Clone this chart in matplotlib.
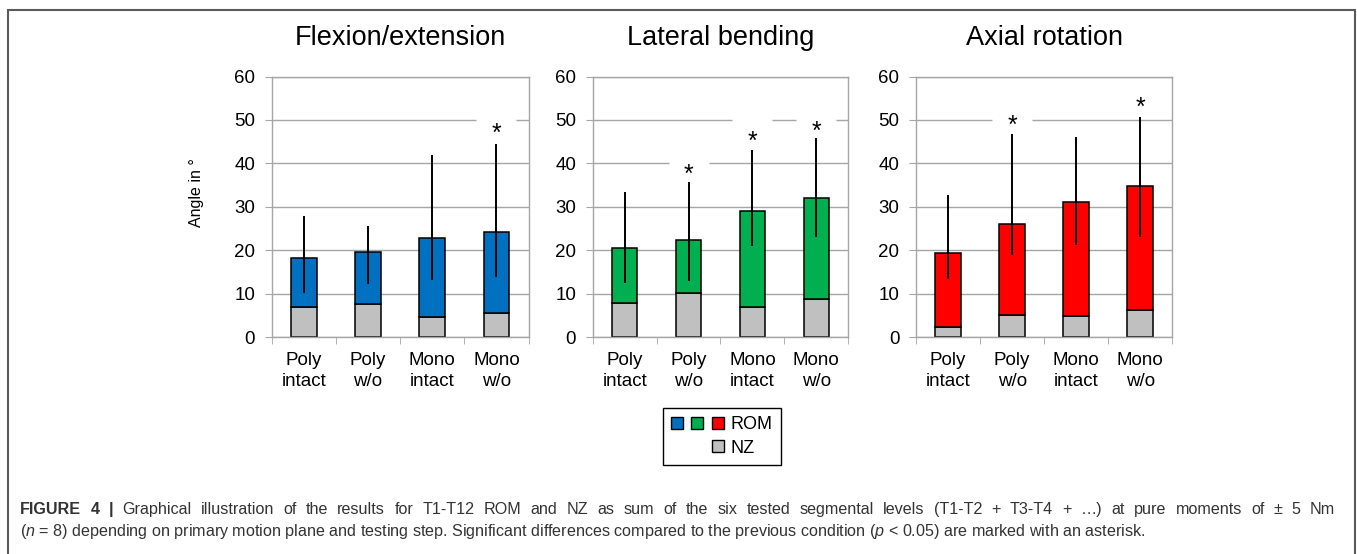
import numpy as np
import matplotlib
matplotlib.use('Agg')
import matplotlib.pyplot as plt
import matplotlib.patches as mpatches
from matplotlib.legend_handler import HandlerTuple

plt.rcParams['font.family'] = ['Liberation Sans', 'DejaVu Sans']
plt.rcParams['mathtext.fontset'] = 'custom'
plt.rcParams['mathtext.rm'] = 'Liberation Sans'
plt.rcParams['mathtext.it'] = 'Liberation Sans:italic'
plt.rcParams['mathtext.bf'] = 'Liberation Sans:bold'

# dati
titles = ['Flexion/extension', 'Lateral bending', 'Axial rotation']
categories = ['Poly\nintact', 'Poly\nw/o', 'Mono\nintact', 'Mono\nw/o']

nz_flex = [7.0, 7.5, 4.6, 5.5]
rom_flex = [18.2, 19.6, 22.9, 24.2]
err_lo_flex = [10.1, 12.2, 13.1, 13.8]
err_hi_flex = [27.9, 25.6, 41.9, 44.5]
star_flex = [None, None, None, 48.5]

nz_lat = [7.8, 10.2, 6.9, 8.8]
rom_lat = [20.4, 22.4, 29.1, 32.1]
err_lo_lat = [12.5, 12.8, 21.0, 23.0]
err_hi_lat = [33.4, 35.7, 43.1, 45.8]
star_lat = [None, 39.1, 46.7, 49.0]

nz_ax = [2.2, 5.1, 4.8, 6.2]
rom_ax = [19.4, 26.1, 31.1, 34.7]
err_lo_ax = [13.3, 19.0, 21.3, 23.0]
err_hi_ax = [32.7, 46.7, 46.1, 50.6]
star_ax = [None, 50.4, None, 54.4]

nz_all = [nz_flex, nz_lat, nz_ax]
rom_all = [rom_flex, rom_lat, rom_ax]
lo_all = [err_lo_flex, err_lo_lat, err_lo_ax]
hi_all = [err_hi_flex, err_hi_lat, err_hi_ax]
star_all = [star_flex, star_lat, star_ax]

rom_colors = ['#0070C0', '#00B050', '#FF0000']
nz_color = '#C0C0C0'
grey = '#a6a6a6'

W, H = 1357, 554
fig = plt.figure(figsize=(W / 100, H / 100), dpi=100)

# posizioni dei pannelli in pixel (sinistra, destra)
panels_px = [(271.7, 528.6), (592.7, 848.3), (916.0, 1172.3)]
top_px, bottom_px = 76.5, 337.0

# marker rettangolare bianco che interrompe la griglia sotto gli asterischi
box = [(-1, -0.8), (1, -0.8), (1, 0.8), (-1, 0.8), (-1, -0.8)]

x = np.arange(4)
for i, (l, r) in enumerate(panels_px):
    ax = fig.add_axes([l / W, 1 - bottom_px / H, (r - l) / W, (bottom_px - top_px) / H])
    ax.set_axisbelow(True)
    nz = np.array(nz_all[i])
    rom = np.array(rom_all[i])
    ax.bar(x, nz, width=0.4, color=nz_color, edgecolor='black', lw=1.1, zorder=2)
    ax.bar(x, rom - nz, bottom=nz, width=0.4, color=rom_colors[i], edgecolor='black', lw=1.1, zorder=2)
    ax.vlines(x, lo_all[i], hi_all[i], color='black', lw=1.4, zorder=3)
    for xi, s in zip(x, star_all[i]):
        if s is not None:
            ax.plot(xi, s, marker=box, ms=29, mfc='white', mec='none', ls='none', zorder=1)
            ax.annotate('*', (xi, s), xytext=(0, -10.4), textcoords='offset points',
                        ha='center', va='baseline', fontsize=18, zorder=4)

    ax.set_xlim(-0.5, 3.5)
    ax.set_ylim(0, 60)
    ax.set_yticks(np.arange(0, 61, 10))
    ax.yaxis.grid(True, color=grey, lw=1.0)
    ax.tick_params(axis='y', direction='out', length=5, color=grey, labelsize=13.5, pad=7)
    ax.set_xticks(x, categories)
    for lab in ax.get_xticklabels():
        lab.set_linespacing(1.3)
    ax.set_xticks(np.arange(-0.5, 4, 1), minor=True)
    ax.tick_params(axis='x', which='major', length=0, labelsize=13.5, pad=11)
    ax.tick_params(axis='x', which='minor', direction='out', length=5, color=grey)
    for sp in ax.spines.values():
        sp.set_color(grey)
        sp.set_linewidth(1.0)
    ax.text(0.5, (bottom_px - 38) / (bottom_px - top_px), titles[i], transform=ax.transAxes,
            ha='center', va='center', fontsize=19.5)

fig.text(196 / W, 1 - 193 / H, 'Angle in °', rotation=90, ha='center', va='center', fontsize=11.5)

# legenda
rom_handle = tuple(mpatches.Patch(facecolor=c, edgecolor='black', lw=1.0) for c in rom_colors)
empty = mpatches.Patch(facecolor='none', edgecolor='none')
nz_handle = (empty, empty, mpatches.Patch(facecolor=nz_color, edgecolor='black', lw=1.0))
leg = fig.legend([rom_handle, nz_handle], ['ROM', 'NZ'],
                 handler_map={tuple: HandlerTuple(ndivide=None, pad=0.45)},
                 loc='center', bbox_to_anchor=(722 / W, 1 - 436.5 / H), fontsize=13,
                 frameon=True, fancybox=False, edgecolor='black', framealpha=1,
                 handlelength=2.9, handleheight=0.66, handletextpad=0.4,
                 borderpad=0.45, labelspacing=0.35)
leg.get_frame().set_linewidth(1.0)

# cornice esterna
fig.add_artist(mpatches.Rectangle((8 / W, -0.05), (1354.5 - 8) / W, 1.05 - 10 / H,
                                  transform=fig.transFigure, fill=False,
                                  edgecolor='#5a5a5a', lw=1.5))

# didascalia: prima riga giustificata parola per parola
cap_size = 11.6
cap_color = '#333333'
bold_words = ['FIGURE', '4', '|']
rest1 = ('Graphical illustration of the results for T1-T12 ROM and NZ as sum of '
         'the six tested segmental levels (T1-T2 + T3-T4 + …) at pure moments of ± 5 Nm')
words1 = [(w, 'bold') for w in bold_words] + [(w, 'normal') for w in rest1.split(' ')]
renderer = fig.canvas.get_renderer()
texts1 = [fig.text(0, 1 - 514 / H, w, fontsize=cap_size, fontweight=fw, color=cap_color,
                   ha='left', va='baseline') for w, fw in words1]
widths = [t.get_window_extent(renderer).width for t in texts1]
gap = (1335 - 20 - sum(widths)) / (len(texts1) - 1)
xpos = 20
for t, w in zip(texts1, widths):
    t.set_x(xpos / W)
    xpos += w + gap

line2 = (r'($n$ = 8) depending on primary motion plane and testing step. Significant differences '
         r'compared to the previous condition ($p$ < 0.05) are marked with an asterisk.')
fig.text(20 / W, 1 - 536 / H, line2, ha='left', va='baseline', fontsize=cap_size, color=cap_color)

fig.savefig('out.png', dpi=100)
